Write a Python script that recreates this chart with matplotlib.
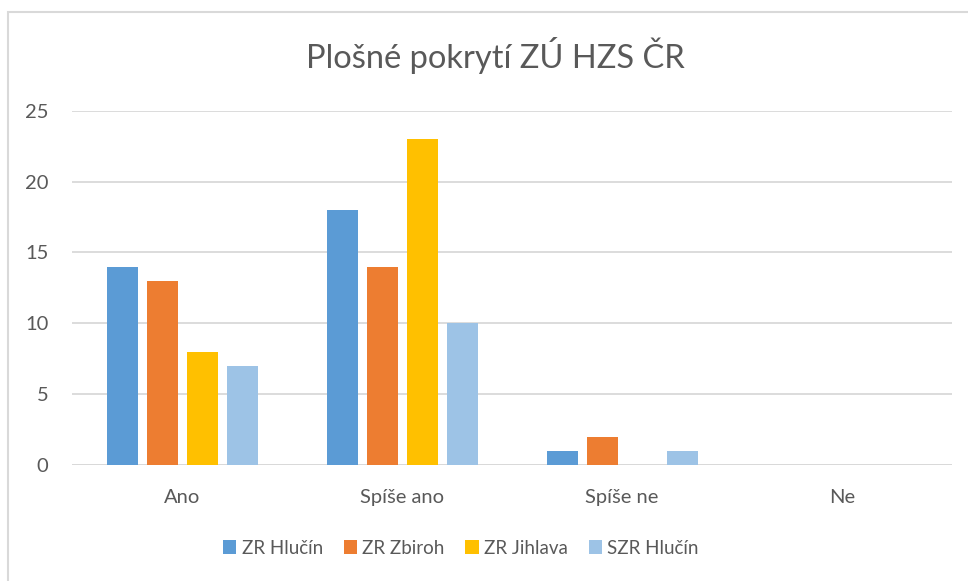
import numpy as np
import matplotlib
matplotlib.use("Agg")
import matplotlib.pyplot as plt
import matplotlib.patches as mpatches

categories = ["Ano", "Spíše ano", "Spíše ne", "Ne"]
series_names = ["ZR Hlučín", "ZR Zbiroh", "ZR Jihlava", "SZR Hlučín"]
zr_hlucin = [14, 18, 1, 0]
zr_zbiroh = [13, 14, 2, 0]
zr_jihlava = [8, 23, 0, 0]
szr_hlucin = [7, 10, 1, 0]
y_ticks = [0, 5, 10, 15, 20, 25]

COLORS = ["#5B9BD5", "#ED7D31", "#FFC000", "#9DC3E6"]
TEXT = "#595959"
GRID = "#D9D9D9"

plt.rcParams['font.family'] = ['Lato', 'DejaVu Sans']

fig = plt.figure(figsize=(9.68, 5.81), dpi=100)
ax = fig.add_axes([72 / 968, 1 - 465 / 581, 880 / 968, (465 - 110.7) / 581])

# chart border (cropped at right/bottom like the screenshot)
fig.patches.append(mpatches.Rectangle((7.5 / 968, -0.05), 1.1, 1.05 - 11.5 / 581,
                                      transform=fig.transFigure, fill=False,
                                      edgecolor=GRID, linewidth=1.5))

x = np.arange(len(categories))
width = 31 / 220
step = 40 / 220
all_series = [zr_hlucin, zr_zbiroh, zr_jihlava, szr_hlucin]
for i, (vals, name) in enumerate(zip(all_series, series_names)):
    ax.bar(x + (i - 1.5) * step, vals, width, color=COLORS[i], label=name, zorder=3)

ax.set_xlim(-0.5, len(categories) - 0.5)
ax.set_ylim(0, 25)
ax.set_yticks(y_ticks)
ax.set_xticks(x)
ax.set_xticklabels(categories)
ax.grid(axis='y', color=GRID, linewidth=1.3, zorder=0)
for s in ax.spines.values():
    s.set_visible(False)
ax.axhline(0, color=GRID, linewidth=1.3, zorder=2)
ax.tick_params(length=0, labelsize=14.5, labelcolor=TEXT)
ax.tick_params(axis='y', pad=17)
ax.tick_params(axis='x', pad=17)

fig.text(495 / 968, 1 - 56 / 581, "Plošné pokrytí ZÚ HZS ČR", ha='center', va='center',
         fontsize=23.5, color=TEXT)

leg = fig.legend(loc='center', bbox_to_anchor=(461 / 968, 1 - 548 / 581), ncol=4,
                 frameon=False, fontsize=13.5, handlelength=0.7, handleheight=0.7,
                 handletextpad=0.3, columnspacing=1.1, labelcolor=TEXT)

fig.savefig("out.png", dpi=100)
